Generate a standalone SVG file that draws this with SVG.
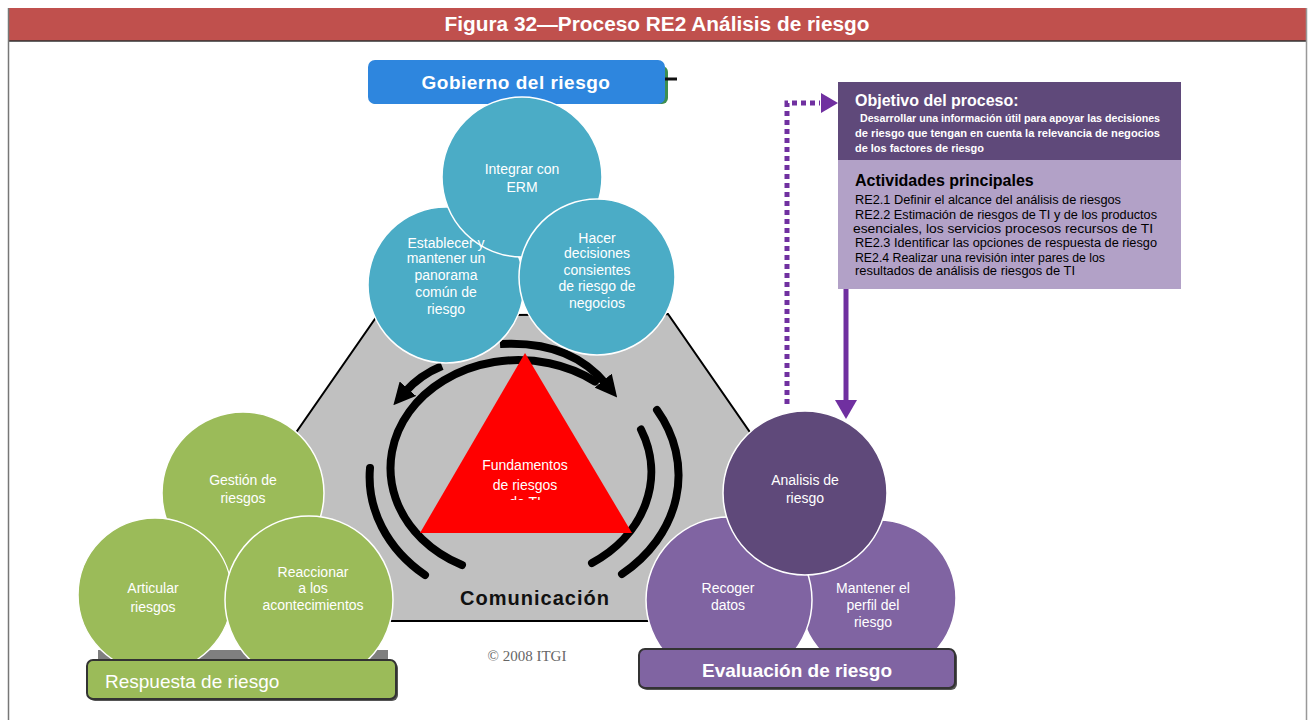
<svg xmlns="http://www.w3.org/2000/svg" width="1308" height="720" viewBox="0 0 1308 720">
<defs>
<style>
.ct{font-family:"Liberation Sans",Arial,sans-serif;font-size:14px;fill:#fff;text-anchor:middle}
.ring{fill:none;stroke:#000;stroke-width:8;stroke-linecap:round}
.blue{fill:#4BACC6;stroke:#fff;stroke-width:1.5}
.green{fill:#9BBB59;stroke:#fff;stroke-width:1.5}
.pdark{fill:#5F497A;stroke:#fff;stroke-width:1.5}
.pmid{fill:#8064A2;stroke:#fff;stroke-width:1.5}
.act{font-family:"Liberation Sans",Arial,sans-serif;font-size:12px;fill:#000}
.obj{font-family:"Liberation Sans",Arial,sans-serif;font-size:10px;fill:#fff;font-weight:bold}
</style>
<marker id="ah" viewBox="0 0 10 10" refX="2" refY="5" markerWidth="22" markerHeight="22" markerUnits="userSpaceOnUse" orient="auto">
<path d="M0,0 L10,5 L0,10 z" fill="#000"/>
</marker>
<clipPath id="triClip"><rect x="400" y="350" width="250" height="150"/></clipPath>
</defs>

<rect x="0" y="0" width="1308" height="720" fill="#fff"/>

<g id="title">
<rect x="8" y="8" width="1299" height="33" fill="#C0504D"/>
<line x1="8" y1="41" x2="1307" y2="41" stroke="#333" stroke-width="1.5"/>
<line x1="8.5" y1="8" x2="8.5" y2="720" stroke="#777" stroke-width="1.5"/>
<line x1="1306.5" y1="8" x2="1306.5" y2="720" stroke="#999" stroke-width="1.5"/>
<text x="657" y="31" font-family="'Liberation Sans',Arial,sans-serif" font-size="20" font-weight="bold" fill="#fff" text-anchor="middle" textLength="425" lengthAdjust="spacingAndGlyphs">Figura 32—Proceso RE2 Análisis de riesgo</text>
</g>

<g id="hexagon">
<polygon points="377,316 668,314 790,490 700,621 370,621 270,470" fill="#C0C0C0" stroke="#000" stroke-width="2"/>
</g>

<g id="cycle">
<path class="ring" d="M 595 381.5 A 128 108 0 1 0 462 565"/>
<path class="ring" d="M 641 429.5 A 128 108 0 0 1 592 563"/>
<path class="ring" d="M 370 468 A 152 127 0 0 0 425 575"/>
<path class="ring" d="M 657 410 A 152 127 0 0 1 622 574"/>
<path class="ring" style="stroke-linecap:butt" d="M 500 344 Q 570 340 606 384" marker-end="url(#ah)"/>
<path class="ring" style="stroke-linecap:butt" d="M 442 366 Q 420 375 405 392" marker-end="url(#ah)"/>
</g>

<g id="fundamentos">
<polygon points="525,353 420,533 632,533" fill="#FF0000"/>
<g clip-path="url(#triClip)">
<text class="ct" x="525" y="470">Fundamentos</text>
<text class="ct" x="525" y="490">de riesgos</text>
<text class="ct" x="525" y="507">de TI</text>
</g>
</g>

<g id="comunicacion">
<text x="535" y="605" font-family="'Liberation Sans',Arial,sans-serif" font-size="20" font-weight="bold" fill="#111" text-anchor="middle" letter-spacing="1">Comunicación</text>
</g>

<g id="copyright">
<text x="527" y="661" font-family="'Liberation Serif','Times New Roman',serif" font-size="15" fill="#666" text-anchor="middle">© 2008 ITGI</text>
</g>

<g id="gobierno">
<rect x="370" y="66" width="298" height="38" rx="6" fill="#3E8E4E"/>
<line x1="664" y1="79" x2="677" y2="79" stroke="#111" stroke-width="3"/>
<rect x="368" y="60" width="297" height="44" rx="7" fill="#2E86DE"/>
<text x="516" y="89" font-family="'Liberation Sans',Arial,sans-serif" font-size="19" font-weight="bold" fill="#fff" text-anchor="middle" letter-spacing="0.5">Gobierno del riesgo</text>
</g>

<g id="blue-left"><circle class="blue" cx="446" cy="285" r="78"/></g>
<g id="blue-top"><circle class="blue" cx="522" cy="177" r="80"/>
<text class="ct" x="522" y="174">Integrar con</text>
<text class="ct" x="522" y="192">ERM</text>
</g>
<g id="blue-right"><circle class="blue" cx="597" cy="277" r="78"/>
<text class="ct" x="597" y="243">Hacer</text>
<text class="ct" x="597" y="258">decisiones</text>
<text class="ct" x="597" y="275">consientes</text>
<text class="ct" x="597" y="291">de riesgo de</text>
<text class="ct" x="597" y="308">negocios</text>
</g>
<g id="blue-left-text">
<text class="ct" x="446" y="248">Establecer y</text>
<text class="ct" x="446" y="263">mantener un</text>
<text class="ct" x="446" y="280">panorama</text>
<text class="ct" x="446" y="297">común de</text>
<text class="ct" x="446" y="314">riesgo</text>
</g>

<g id="respuesta-backdrop">
<rect x="98" y="650" width="290" height="14" fill="#7F7F7F"/>
</g>
<g id="green-top"><circle class="green" cx="243" cy="493" r="81"/>
<text class="ct" x="243" y="485">Gestión de</text>
<text class="ct" x="243" y="503">riesgos</text>
</g>
<g id="green-left"><circle class="green" cx="155" cy="595" r="77"/>
<text class="ct" x="153" y="593">Articular</text>
<text class="ct" x="153" y="612">riesgos</text>
</g>
<g id="green-right"><circle class="green" cx="309" cy="600" r="84"/>
<text class="ct" x="313" y="577">Reaccionar</text>
<text class="ct" x="313" y="593">a los</text>
<text class="ct" x="313" y="610">acontecimientos</text>
</g>
<g id="respuesta">
<rect x="89" y="662" width="309" height="39" rx="6" fill="#555"/>
<rect x="87" y="660" width="309" height="39" rx="6" fill="#9BBB59" stroke="#333" stroke-width="2"/>
<text x="105" y="688" font-family="'Liberation Sans',Arial,sans-serif" font-size="19" fill="#fff">Respuesta de riesgo</text>
</g>

<g id="purple-right"><circle class="pmid" cx="878" cy="598" r="78"/>
<text class="ct" x="873" y="593">Mantener el</text>
<text class="ct" x="873" y="610">perfil del</text>
<text class="ct" x="873" y="627">riesgo</text>
</g>
<g id="purple-left"><circle class="pmid" cx="729" cy="600" r="83"/>
<text class="ct" x="728" y="593">Recoger</text>
<text class="ct" x="728" y="610">datos</text>
</g>
<g id="purple-top"><circle class="pdark" cx="805" cy="493" r="82"/>
<text class="ct" x="805" y="485">Analisis de</text>
<text class="ct" x="805" y="503">riesgo</text>
</g>
<g id="evaluacion">
<rect x="641" y="651" width="316" height="39" rx="6" fill="#555"/>
<rect x="639" y="649" width="316" height="39" rx="6" fill="#8064A2" stroke="#333" stroke-width="2"/>
<text x="797" y="677" font-family="'Liberation Sans',Arial,sans-serif" font-size="19" font-weight="bold" fill="#fff" text-anchor="middle">Evaluación de riesgo</text>
</g>

<g id="objetivo">
<rect x="838" y="82" width="343" height="78" fill="#5F497A"/>
<rect x="838" y="160" width="343" height="129" fill="#B2A1C7"/>
<text x="855" y="106" font-family="'Liberation Sans',Arial,sans-serif" font-size="16" font-weight="bold" fill="#fff">Objetivo del proceso:</text>
<text class="obj" x="860" y="122" textLength="300" lengthAdjust="spacingAndGlyphs">Desarrollar una información útil para apoyar las decisiones</text>
<text class="obj" x="855" y="137" textLength="305" lengthAdjust="spacingAndGlyphs">de riesgo que tengan en cuenta la relevancia de negocios</text>
<text class="obj" x="855" y="152" textLength="129" lengthAdjust="spacingAndGlyphs">de los factores de riesgo</text>
<text x="855" y="186" font-family="'Liberation Sans',Arial,sans-serif" font-size="16" font-weight="bold" fill="#000">Actividades principales</text>
<text class="act" x="855" y="204" textLength="266" lengthAdjust="spacingAndGlyphs">RE2.1 Definir el alcance del análisis de riesgos</text>
<text class="act" x="855" y="219" textLength="302" lengthAdjust="spacingAndGlyphs">RE2.2 Estimación de riesgos de TI y de los productos</text>
<text class="act" x="853" y="233" textLength="300" lengthAdjust="spacingAndGlyphs">esenciales, los servicios procesos recursos de TI</text>
<text class="act" x="855" y="247" textLength="302" lengthAdjust="spacingAndGlyphs">RE2.3 Identificar las opciones de respuesta de riesgo</text>
<text class="act" x="855" y="262" textLength="250" lengthAdjust="spacingAndGlyphs">RE2.4 Realizar una revisión inter pares de los</text>
<text class="act" x="855" y="275" textLength="220" lengthAdjust="spacingAndGlyphs">resultados de análisis de riesgos de TI</text>
</g>

<g id="connectors">
<path d="M 787 404 L 787 103 L 820 103" fill="none" stroke="#7030A0" stroke-width="5" stroke-dasharray="5 4"/>
<polygon points="821,93 838,103 821,113" fill="#7030A0"/>
<line x1="846" y1="289" x2="846" y2="402" stroke="#7030A0" stroke-width="5"/>
<polygon points="835,400 857,400 846,419" fill="#7030A0"/>
</g>
</svg>
